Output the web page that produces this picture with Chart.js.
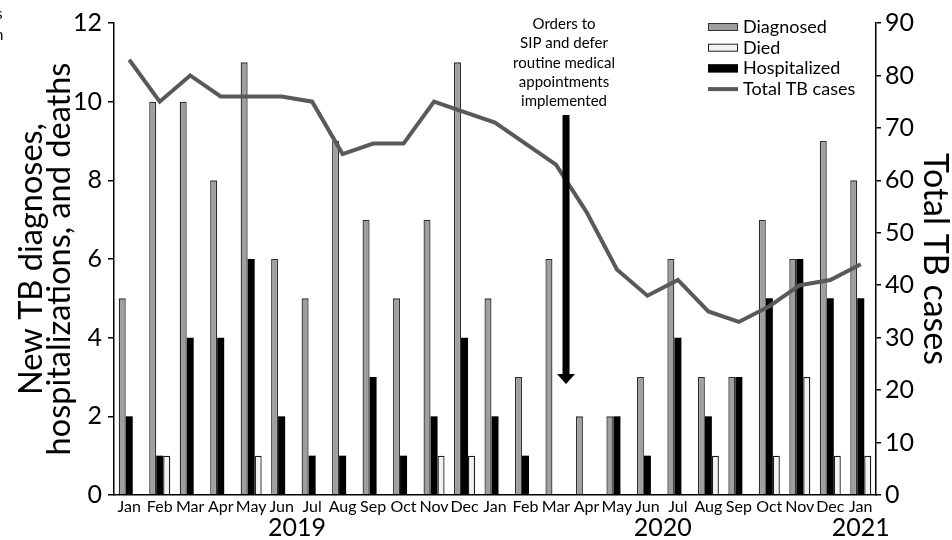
<!DOCTYPE html>
<html>
<head>
<meta charset="utf-8">
<script src="https://cdn.jsdelivr.net/npm/chart.js@4.4.1/dist/chart.umd.min.js"></script>
<style>
  html, body { margin: 0; padding: 0; background: #fff; }
  #wrap { width: 952px; height: 540px; position: relative; }
</style>
</head>
<body>
<div id="wrap"><canvas id="tbChart"></canvas></div>
<script>
// Monthly counts, Jan 2019 - Jan 2021
const months = ['Jan', 'Feb', 'Mar', 'Apr', 'May', 'Jun', 'Jul', 'Aug', 'Sep', 'Oct', 'Nov', 'Dec',
                'Jan', 'Feb', 'Mar', 'Apr', 'May', 'Jun', 'Jul', 'Aug', 'Sep', 'Oct', 'Nov', 'Dec', 'Jan'];
const diagnosed    = [5, 10, 10, 8, 11, 6, 5, 9, 7, 5, 7, 11, 5, 3, 6, 2, 2, 3, 6, 3, 3, 7, 6, 9, 8];
const hospitalized = [2, 1, 4, 4, 6, 2, 1, 1, 3, 1, 2, 4, 2, 1, 0, 0, 2, 1, 4, 2, 3, 5, 6, 5, 5];
const died         = [0, 1, 0, 0, 1, 0, 0, 0, 0, 0, 1, 1, 0, 0, 0, 0, 0, 0, 0, 1, 0, 1, 3, 1, 1];
const totalCases   = [83, 75, 80, 76, 76, 76, 75, 65, 67, 67, 75, 73, 71, 67, 63, 54, 43, 38, 41, 35, 33, 36, 40, 41, 44];

const years = ['2019', '2020', '2021'];
const yearFirst = [0, 12, 24];
const yearLast = [11, 23, 24];

const annotationLines = ['Orders to', 'SIP and defer', 'routine medical', 'appointments', 'implemented'];
const annotationIndex = 14.33; // between Mar and Apr 2020

const FONT = 'Lato, "Open Sans", sans-serif';
const GREY = '#9f9f9f';
const LINE_GREY = '#595959';

// legend entries drawn in this order (bars sit grey / black / white)
const legendItems = [
    { text: 'Diagnosed', type: 'box', fill: GREY, stroke: '#333' },
    { text: 'Died', type: 'box', fill: '#f2f2f2', stroke: '#222' },
    { text: 'Hospitalized', type: 'box', fill: '#000', stroke: '#000' },
    { text: 'Total TB cases', type: 'line', fill: LINE_GREY, stroke: LINE_GREY }
];

const extrasPlugin = {
    id: 'extras',
    afterDatasetsDraw(chart) {
        const ctx = chart.ctx;
        const x = chart.scales.x;
        const y = chart.scales.y;
        const area = chart.chartArea;
        ctx.save();

        // arrow marking the orders
        const ax = x.getPixelForValue(annotationIndex);
        const top = area.top + 92;
        const tip = y.getPixelForValue(2.82);
        ctx.fillStyle = '#000';
        ctx.fillRect(ax - 3.5, top, 7, tip - top - 9);
        ctx.beginPath();
        ctx.moveTo(ax - 9, tip - 10);
        ctx.lineTo(ax + 9, tip - 10);
        ctx.lineTo(ax, tip);
        ctx.closePath();
        ctx.fill();

        // annotation text
        ctx.font = '15px ' + FONT;
        ctx.textAlign = 'center';
        ctx.textBaseline = 'middle';
        annotationLines.forEach((t, i) => {
            ctx.fillText(t, ax - 2, area.top + 1 + i * 19.4);
        });

        // legend
        const lx = area.right - 168;
        ctx.font = '18px ' + FONT;
        ctx.textAlign = 'left';
        legendItems.forEach((it, i) => {
            const cy = area.top + 4 + i * 20.7;
            if (it.type === 'box') {
                ctx.fillStyle = it.fill;
                ctx.fillRect(lx, cy - 4, 30, 8);
                ctx.strokeStyle = it.stroke;
                ctx.lineWidth = 1;
                ctx.strokeRect(lx + 0.5, cy - 3.5, 29, 7);
            } else {
                ctx.strokeStyle = it.stroke;
                ctx.lineWidth = 4;
                ctx.beginPath();
                ctx.moveTo(lx, cy);
                ctx.lineTo(lx + 30, cy);
                ctx.stroke();
            }
            ctx.fillStyle = '#000';
            ctx.fillText(it.text, lx + 35, cy);
        });

        // year labels under the months
        ctx.font = '25px ' + FONT;
        ctx.textAlign = 'center';
        years.forEach((yr, i) => {
            const cx = (x.getPixelForValue(yearFirst[i]) + x.getPixelForValue(yearLast[i])) / 2;
            ctx.fillText(yr, cx, area.bottom + 33);
        });

        // cropped letters at the left edge
        ctx.font = '15px ' + FONT;
        ctx.textAlign = 'left';
        ctx.fillText('s', -4, 14);
        ctx.fillText('n', -5, 35);

        ctx.restore();
    }
};

const ctx = document.getElementById('tbChart').getContext('2d');
new Chart(ctx, {
    data: {
        labels: months,
        datasets: [
            {
                type: 'line',
                label: 'Total TB cases',
                data: totalCases,
                yAxisID: 'y1',
                borderColor: LINE_GREY,
                borderWidth: 4,
                pointRadius: 0,
                tension: 0,
                order: 0
            },
            {
                type: 'bar',
                label: 'Diagnosed',
                data: diagnosed,
                yAxisID: 'y',
                backgroundColor: GREY,
                borderColor: '#2e2e2e',
                borderWidth: 1.3,
                order: 1
            },
            {
                type: 'bar',
                label: 'Hospitalized',
                data: hospitalized,
                yAxisID: 'y',
                backgroundColor: '#000',
                borderColor: '#000',
                borderWidth: 0,
                order: 2
            },
            {
                type: 'bar',
                label: 'Died',
                data: died,
                yAxisID: 'y',
                backgroundColor: '#f2f2f2',
                borderColor: '#1a1a1a',
                borderWidth: 1.3,
                order: 3
            }
        ]
    },
    options: {
        responsive: true,
        maintainAspectRatio: false,
        animation: false,
        layout: { padding: { top: 23, left: 0, right: 0, bottom: 0 } },
        datasets: {
            bar: { categoryPercentage: 0.69, barPercentage: 1.0 }
        },
        plugins: {
            legend: { display: false },
            tooltip: { enabled: false }
        },
        scales: {
            x: {
                grid: { display: false },
                border: { display: true, color: '#000', width: 1.5, z: 1 },
                ticks: {
                    color: '#000',
                    font: { family: FONT, size: 16, lineHeight: 1 },
                    padding: -4,
                    maxRotation: 0,
                    autoSkip: false
                },
                afterFit(s) { s.height = 45; }
            },
            y: {
                position: 'left',
                min: 0,
                max: 12,
                grid: { drawOnChartArea: false, drawTicks: true, tickLength: 6, tickColor: '#000', lineWidth: 1.5 },
                border: { display: true, color: '#000', width: 1.5 },
                ticks: {
                    stepSize: 2,
                    color: '#000',
                    padding: 6,
                    font: { family: FONT, size: 25 }
                },
                title: {
                    display: true,
                    text: ['New TB diagnoses,', 'hospitalizations, and deaths'],
                    color: '#000',
                    font: { family: FONT, size: 32.5, lineHeight: 0.88 },
                    padding: { top: 17, bottom: 0 }
                },
                afterFit(s) { s.width = 114; }
            },
            y1: {
                position: 'right',
                min: 0,
                max: 90,
                grid: { drawOnChartArea: false, drawTicks: true, tickLength: 5, tickColor: '#000', lineWidth: 1.5 },
                border: { display: true, color: '#000', width: 1.5 },
                ticks: {
                    stepSize: 10,
                    color: '#000',
                    padding: 4,
                    font: { family: FONT, size: 25 }
                },
                title: {
                    display: true,
                    text: 'Total TB cases',
                    color: '#000',
                    font: { family: FONT, size: 34, lineHeight: 1 },
                    padding: { top: 0, bottom: 0 }
                },
                afterFit(s) { s.width = 76; }
            }
        }
    },
    plugins: [extrasPlugin]
});
</script>
</body>
</html>
